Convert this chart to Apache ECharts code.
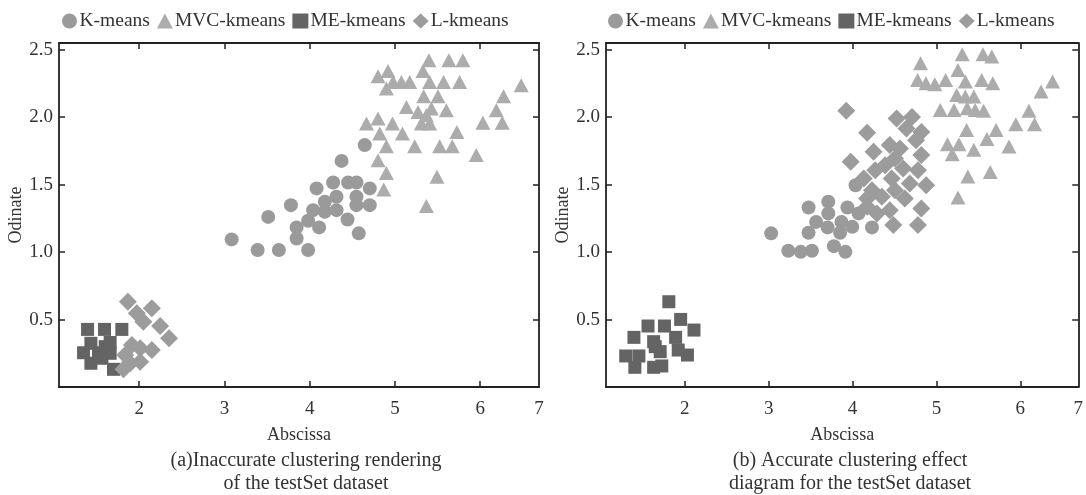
<!DOCTYPE html>
<html><head><meta charset="utf-8">
<script src="https://cdn.jsdelivr.net/npm/echarts@6/dist/echarts.min.js"></script>
<style>html,body{margin:0;padding:0;background:#fff}#c{width:1086px;height:495px}</style>
</head><body><div id="c"></div>
<script>
const seriesNames = ['K-means', 'MVC-kmeans', 'ME-kmeans', 'L-kmeans'];
const xTicks = [2, 3, 4, 5, 6];
const xEdgeLabel = '7';
const yTicks = [0.5, 1.0, 1.5, 2.0, 2.5];
const captionsLeft = ['(a)Inaccurate clustering rendering', 'of the testSet dataset'];
const captionsRight = ['(b) Accurate clustering effect', 'diagram for the testSet dataset'];

// (a) left panel
const leftKmeans = [
  [4.646,1.793],[4.374,1.676],[4.275,1.516],[4.451,1.516],[4.549,1.516],[4.081,1.472],[4.705,1.472],
  [4.315,1.410],[4.549,1.410],[4.178,1.373],[3.780,1.348],[4.549,1.348],[4.705,1.348],[4.041,1.311],
  [4.178,1.299],[4.315,1.311],[3.514,1.261],[4.444,1.242],[3.982,1.232],[3.847,1.183],[4.111,1.183],
  [4.576,1.139],[3.847,1.101],[3.085,1.094],[3.390,1.015],[3.639,1.015],[3.982,1.015]
];
const leftMVC = [
  [5.399,2.422],[5.633,2.422],[5.797,2.422],[4.919,2.343],[5.329,2.343],[4.802,2.304],[4.978,2.261],
  [5.076,2.261],[5.173,2.261],[5.407,2.261],[5.571,2.261],[5.759,2.261],[6.481,2.237],[4.900,2.213],
  [6.274,2.156],[5.337,2.156],[5.505,2.156],[5.135,2.076],[6.189,2.052],[5.271,2.039],[5.427,2.064],
  [5.603,2.052],[5.369,2.015],[5.310,1.953],[5.407,1.953],[4.666,1.953],[4.802,1.990],[4.971,1.953],
  [6.032,1.958],[6.259,1.958],[4.822,1.879],[5.088,1.879],[5.727,1.891],[4.900,1.785],[5.232,1.785],
  [5.525,1.785],[5.673,1.785],[5.954,1.719],[4.802,1.681],[4.900,1.587],[5.493,1.558],[4.869,1.464],
  [5.369,1.341]
];
const leftME = [
  [1.395,0.427],[1.594,0.427],[1.797,0.427],[1.348,0.254],[1.523,0.254],[1.434,0.324],[1.434,0.176],
  [1.602,0.299],[1.660,0.250],[1.563,0.213],[1.699,0.131],[1.660,0.330]
];
const leftL = [
  [1.868,0.632],[2.149,0.583],[1.973,0.546],[2.050,0.484],[2.246,0.452],[2.351,0.361],[1.915,0.311],
  [2.012,0.287],[2.149,0.274],[1.836,0.237],[2.012,0.187],[1.816,0.131],[1.895,0.176]
];

// (b) right panel
const rightKmeans = [
  [3.029,1.139],[3.475,1.331],[3.710,1.373],[3.710,1.287],[3.938,1.331],[3.565,1.224],[3.702,1.183],
  [3.475,1.143],[3.867,1.224],[3.996,1.187],[3.851,1.143],[4.071,1.287],[4.231,1.183],[3.233,1.010],
  [3.381,1.002],[3.515,1.010],[3.777,1.044],[3.914,1.002],[4.035,1.496]
];
const rightMVC = [
  [5.307,2.467],[5.554,2.467],[5.659,2.450],[4.810,2.400],[5.256,2.350],[4.775,2.276],[4.874,2.252],
  [4.980,2.244],[5.109,2.276],[5.344,2.264],[5.539,2.276],[5.671,2.252],[6.384,2.264],[6.247,2.190],
  [5.241,2.165],[5.344,2.153],[5.445,2.153],[5.045,2.054],[5.209,2.054],[5.366,2.067],[5.461,2.054],
  [5.562,2.047],[6.102,2.047],[5.946,1.948],[6.169,1.948],[5.359,1.906],[5.711,1.906],[5.131,1.800],
  [5.268,1.800],[5.601,1.839],[5.864,1.783],[5.188,1.726],[5.445,1.758],[5.374,1.561],[5.641,1.593],
  [5.256,1.405]
];
const rightME = [
  [1.809,0.632],[1.950,0.501],[1.561,0.452],[1.757,0.452],[2.109,0.422],[1.393,0.368],[1.628,0.336],
  [1.890,0.368],[1.295,0.230],[1.452,0.230],[1.706,0.262],[1.921,0.274],[2.031,0.237],[1.404,0.146],
  [1.628,0.146],[1.725,0.156],[1.647,0.299]
];
const rightL = [
  [3.924,2.047],[4.525,1.990],[4.708,2.002],[4.173,1.884],[4.819,1.891],[4.642,1.916],[4.756,1.830],
  [4.443,1.793],[4.250,1.743],[4.564,1.768],[3.977,1.669],[4.819,1.719],[4.505,1.694],[4.388,1.644],
  [4.603,1.620],[4.270,1.607],[4.779,1.607],[4.133,1.546],[4.466,1.546],[4.877,1.496],[4.682,1.509],
  [4.231,1.459],[4.505,1.459],[4.173,1.398],[4.349,1.410],[4.622,1.398],[4.173,1.336],[4.443,1.311],
  [4.819,1.324],[4.290,1.287],[4.485,1.200],[4.779,1.200]
];

const X_MIN = 1.06, X_MAX = 6.69, Y_MIN = 0, Y_MAX = 2.55;
const FONT = 'Liberation Serif';
const colors = ['#9a9a9a', '#acacac', '#646464', '#9c9c9c'];
const symbols = ['circle', 'triangle', 'rect', 'diamond'];
const sizes = [14, [15, 14], 13, 18];

const grids = [
  { left: 59, top: 43, width: 480, height: 344 },
  { left: 606, top: 43, width: 480, height: 344 }
];
const lineStyle = { color: '#222', width: 1.8 };
const tickStyle = { show: true, inside: true, length: 6, lineStyle: { color: '#222', width: 1.5 } };

const xAxes = [], yAxes = [];
grids.forEach((g, i) => {
  xAxes.push({
    type: 'value', gridIndex: i, position: 'bottom', min: X_MIN, max: X_MAX,
    name: 'Abscissa', nameLocation: 'middle', nameGap: 39,
    nameTextStyle: { fontFamily: FONT, fontSize: 18, color: '#333' },
    axisLine: { show: true, onZero: false, lineStyle },
    axisTick: Object.assign({ customValues: xTicks }, tickStyle),
    axisLabel: {
      customValues: xTicks.concat([X_MAX]), margin: 13,
      fontFamily: FONT, fontSize: 19, color: '#333',
      formatter: v => (v > 6.5 ? xEdgeLabel : String(v))
    },
    splitLine: { show: false }
  });
  xAxes.push({
    type: 'value', gridIndex: i, position: 'top', min: X_MIN, max: X_MAX,
    axisLine: { show: true, onZero: false, lineStyle },
    axisTick: Object.assign({ customValues: xTicks }, tickStyle),
    axisLabel: { show: false }, splitLine: { show: false }
  });
  yAxes.push({
    type: 'value', gridIndex: i, position: 'left', min: Y_MIN, max: Y_MAX,
    name: 'Odinate', nameLocation: 'middle', nameGap: 28,
    nameTextStyle: { fontFamily: FONT, fontSize: 18, color: '#333' },
    axisLine: { show: true, onZero: false, lineStyle },
    axisTick: Object.assign({ customValues: yTicks }, tickStyle),
    axisLabel: {
      customValues: yTicks, margin: 6, fontFamily: FONT, fontSize: 19, color: '#333',
      formatter: v => v.toFixed(1)
    },
    splitLine: { show: false }
  });
  yAxes.push({
    type: 'value', gridIndex: i, position: 'right', min: Y_MIN, max: Y_MAX,
    axisLine: { show: true, onZero: false, lineStyle },
    axisTick: Object.assign({ customValues: yTicks }, tickStyle),
    axisLabel: { show: false }, splitLine: { show: false }
  });
});

const panelData = [
  [leftKmeans, leftMVC, leftME, leftL],
  [rightKmeans, rightMVC, rightME, rightL]
];
const series = [];
panelData.forEach((sets, p) => {
  sets.forEach((d, k) => {
    series.push({
      type: 'scatter', name: seriesNames[k], xAxisIndex: p * 2, yAxisIndex: p * 2,
      data: d, symbol: symbols[k], symbolSize: sizes[k],
      itemStyle: { color: colors[k], opacity: 1 },
      emphasis: { disabled: true }, animation: false
    });
  });
});

const legendBase = {
  top: 6, itemWidth: 16, itemHeight: 15, itemGap: 7,
  textStyle: { fontFamily: FONT, fontSize: 19.5, color: '#333', padding: [0, 0, 0, -3] },
  data: seriesNames.map((n, k) => ({ name: n, icon: symbols[k] })),
  selectedMode: false
};

function caption(lines, cx) {
  return lines.map((t, j) => ({
    type: 'text', x: cx, y: 461 + j * 23,
    style: { text: t, fontFamily: FONT, fontSize: 20, fill: '#333', align: 'center', verticalAlign: 'middle' }
  }));
}

const chart = echarts.init(document.getElementById('c'), null, { renderer: 'canvas' });
chart.setOption({
  backgroundColor: '#fff',
  animation: false,
  grid: grids,
  xAxis: xAxes,
  yAxis: yAxes,
  legend: [Object.assign({ left: 57 }, legendBase), Object.assign({ left: 603 }, legendBase)],
  series,
  graphic: caption(captionsLeft, 306).concat(caption(captionsRight, 850))
});
</script></body></html>
